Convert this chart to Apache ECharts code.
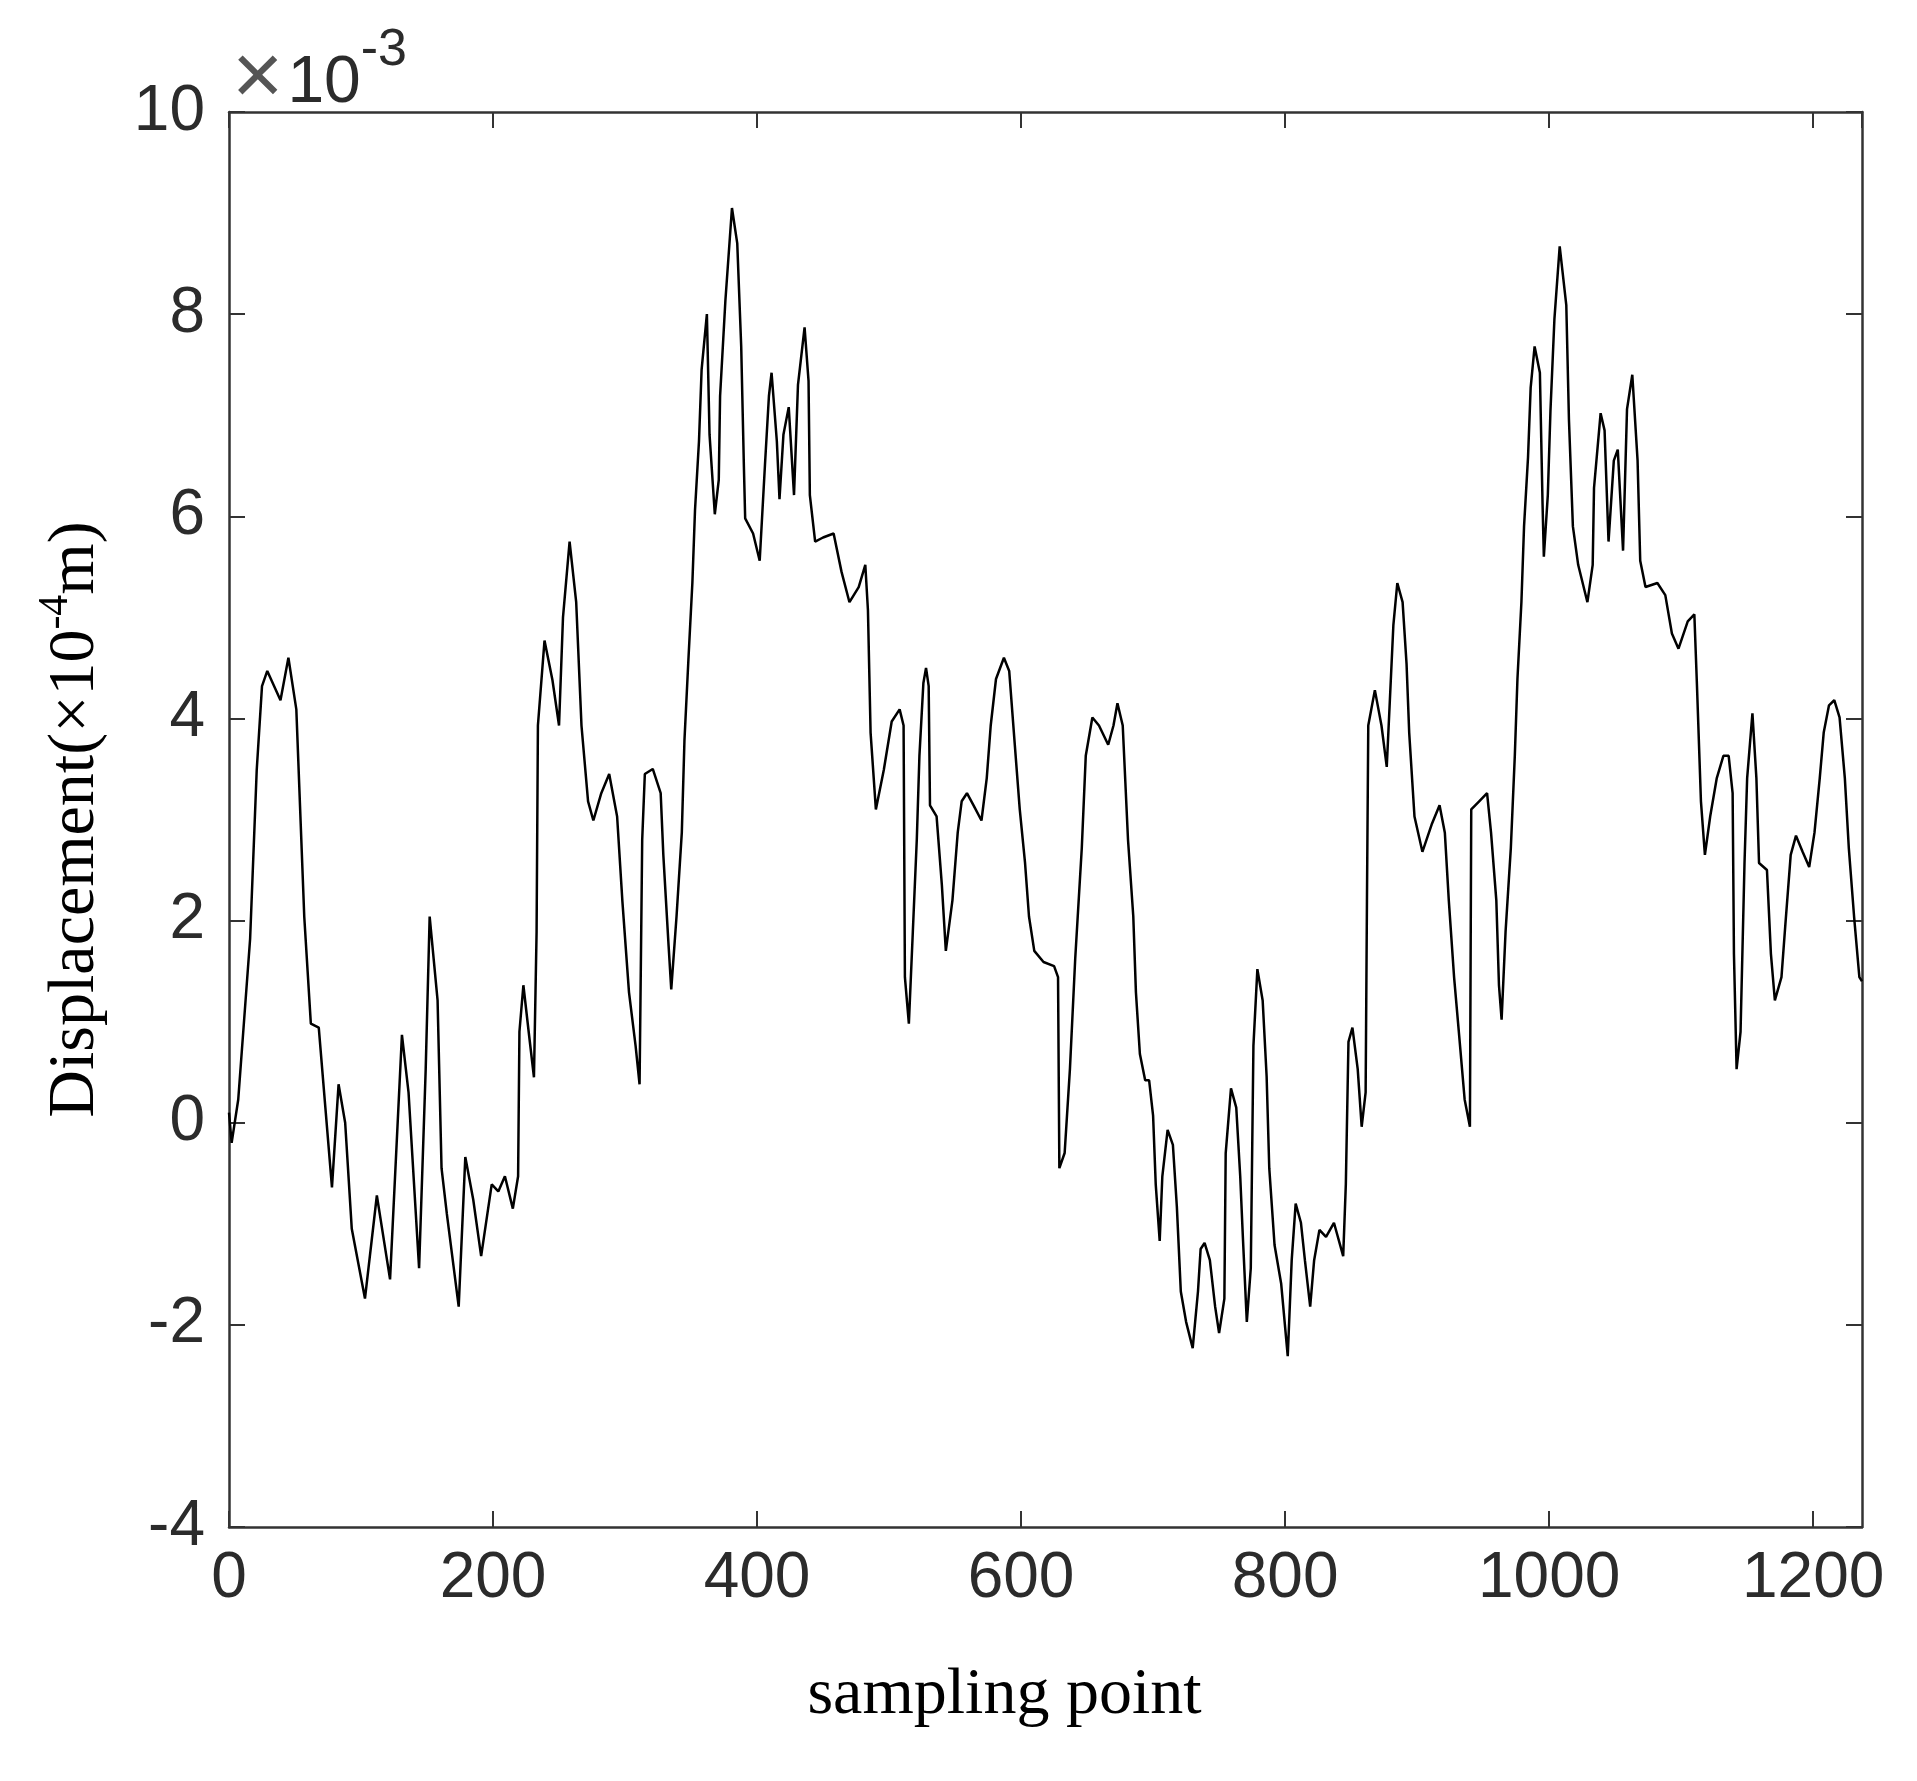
<!DOCTYPE html>
<html>
<head>
<meta charset="utf-8">
<script src="https://cdn.jsdelivr.net/npm/echarts@6/dist/echarts.min.js"></script>
<style>
  html, body { margin: 0; padding: 0; background: #fff; }
  #container { width: 1917px; height: 1781px; }
</style>
</head>
<body>
<div id="container"></div>
<script>
// sampling point index (x) and displacement value in units of 1e-3 (y)
const SAMPLE_X = [
    0, 2, 7, 16, 21, 25, 29, 39, 45, 51, 57, 62, 68, 73, 78, 83, 88, 93, 103, 112,
    122, 131, 136, 144, 149, 152, 158, 161, 165, 174, 179, 185, 191, 199, 204, 209, 215, 219, 220, 223,
    227, 231, 233, 234, 239, 245, 250, 253, 258, 263, 267, 272, 276, 282, 288, 294, 298, 303, 308, 311,
    313, 315, 321, 327, 329, 333, 335, 339, 343, 345, 348, 351, 353, 356, 358, 362, 364, 368, 371, 372,
    376, 381, 385, 388, 390, 391, 397, 402, 406, 409, 411, 415, 417, 420, 424, 428, 431, 436, 439, 440,
    444, 450, 458, 464, 470, 477, 482, 484, 486, 490, 496, 502, 508, 511, 512, 515, 518, 521, 523, 526,
    528, 530, 531, 536, 540, 543, 548, 552, 555, 559, 564, 570, 574, 577, 581, 587, 591, 595, 599, 603,
    606, 610, 617, 625, 628, 629, 633, 637, 641, 646, 649, 654, 659, 666, 670, 673, 677, 681, 685, 687,
    690, 694, 697, 700, 702, 705, 707, 711, 715, 718, 721, 725, 730, 734, 736, 739, 743, 747, 750, 754,
    755, 759, 763, 766, 768, 771, 774, 776, 779, 783, 786, 788, 792, 797, 802, 805, 808, 812, 815, 819,
    822, 826, 831, 837, 844, 846, 848, 851, 855, 858, 861, 862, 863, 868, 873, 877, 882, 885, 889, 892,
    894, 898, 904, 911, 917, 921, 924, 928, 932, 936, 940, 941, 947, 953, 956, 960, 962, 964, 967, 971,
    974, 976, 979, 981, 984, 986, 989, 993, 995, 996, 999, 1001, 1004, 1008, 1013, 1015, 1018, 1022, 1029, 1033,
    1034, 1039, 1042, 1045, 1049, 1052, 1056, 1059, 1063, 1067, 1069, 1073, 1082, 1088, 1093, 1098, 1105, 1110, 1112, 1115,
    1118, 1122, 1127, 1132, 1136, 1139, 1140, 1142, 1145, 1148, 1150, 1154, 1157, 1159, 1165, 1168, 1171, 1176, 1179, 1183,
    1187, 1192, 1197, 1201, 1205, 1208, 1212, 1216, 1220, 1224, 1227, 1231, 1235, 1237
];
const DISPLACEMENT = [
    0.1, -0.2, 0.23, 1.82, 3.49, 4.32, 4.47, 4.18, 4.6, 4.09, 2.04, 0.98, 0.94, 0.15, -0.64, 0.38, 0.0, -1.05, -1.74, -0.72,
    -1.55, 0.87, 0.3, -1.44, 0.53, 2.04, 1.21, -0.45, -0.9, -1.82, -0.34, -0.76, -1.32, -0.61, -0.68, -0.53, -0.85, -0.53, 0.9, 1.36,
    0.9, 0.45, 1.89, 3.93, 4.77, 4.38, 3.93, 5.0, 5.75, 5.15, 3.93, 3.18, 2.99, 3.26, 3.45, 3.03, 2.19, 1.29, 0.76, 0.38,
    2.8, 3.45, 3.5, 3.26, 2.65, 1.75, 1.32, 2.04, 2.87, 3.78, 4.58, 5.34, 6.06, 6.74, 7.45, 8.0, 6.81, 6.02, 6.36, 7.19,
    8.13, 9.05, 8.7, 7.68, 6.51, 5.98, 5.83, 5.56, 6.51, 7.19, 7.42, 6.74, 6.17, 6.81, 7.08, 6.21, 7.3, 7.87, 7.34, 6.21,
    5.75, 5.79, 5.83, 5.45, 5.15, 5.3, 5.52, 5.07, 3.86, 3.1, 3.49, 3.97, 4.09, 3.93, 1.44, 0.98, 1.89, 2.8, 3.63, 4.35,
    4.5, 4.32, 3.14, 3.03, 2.35, 1.7, 2.2, 2.87, 3.18, 3.26, 3.14, 2.99, 3.41, 3.93, 4.39, 4.6, 4.47, 3.78, 3.1, 2.57,
    2.04, 1.7, 1.59, 1.55, 1.44, -0.45, -0.3, 0.53, 1.62, 2.72, 3.63, 4.01, 3.93, 3.74, 3.93, 4.15, 3.93, 2.8, 2.04, 1.29,
    0.68, 0.42, 0.42, 0.07, -0.61, -1.17, -0.53, -0.07, -0.22, -0.83, -1.67, -1.97, -2.23, -1.67, -1.25, -1.19, -1.36, -1.82, -2.08, -1.74,
    -0.3, 0.34, 0.15, -0.53, -1.13, -1.97, -1.44, 0.76, 1.52, 1.21, 0.46, -0.45, -1.21, -1.59, -2.31, -1.36, -0.8, -0.99, -1.36, -1.82,
    -1.36, -1.06, -1.13, -0.99, -1.32, -0.61, 0.8, 0.94, 0.53, -0.04, 0.3, 2.19, 3.93, 4.28, 3.93, 3.52, 4.92, 5.34, 5.15, 4.54,
    3.86, 3.03, 2.68, 2.95, 3.14, 2.87, 2.2, 1.44, 0.84, 0.23, -0.04, 3.1, 3.18, 3.26, 2.87, 2.2, 1.36, 1.02, 1.89, 2.72,
    3.63, 4.39, 5.15, 5.9, 6.58, 7.27, 7.68, 7.42, 6.13, 5.6, 6.21, 7.04, 7.95, 8.67, 8.09, 6.96, 5.9, 5.52, 5.15, 5.52,
    6.28, 7.02, 6.85, 5.75, 6.55, 6.66, 5.66, 7.06, 7.4, 6.55, 5.56, 5.3, 5.34, 5.22, 4.84, 4.69, 4.96, 5.03, 4.32, 3.18,
    2.65, 3.03, 3.41, 3.63, 3.63, 3.26, 1.67, 0.53, 0.9, 2.57, 3.41, 4.05, 3.41, 2.57, 2.5, 1.67, 1.21, 1.44, 1.97, 2.65,
    2.84, 2.68, 2.53, 2.87, 3.41, 3.86, 4.13, 4.18, 4.01, 3.41, 2.72, 2.04, 1.44, 1.4
];

const X_MIN = 0, X_MAX = 1237, X_STEP = 200;
const Y_MIN = -4, Y_MAX = 10, Y_STEP = 2;

const AXIS_COLOR = '#333';
const LABEL_COLOR = '#2b2b2b';
const SANS = "'Liberation Sans', Arial, sans-serif";
const SERIF = "'Liberation Serif', 'Times New Roman', serif";

let dom = document.getElementById('container');
let myChart = echarts.init(dom);

let axisLine = { show: true, onZero: false, lineStyle: { color: AXIS_COLOR, width: 2.5 } };
let axisTick = { show: true, inside: true, length: 16, lineStyle: { color: AXIS_COLOR, width: 2 } };

let option = {
    backgroundColor: '#fff',
    animation: false,
    grid: { left: 229, right: 55, top: 112, bottom: 254 },
    xAxis: [{
        type: 'value',
        min: X_MIN,
        max: X_MAX,
        interval: X_STEP,
        position: 'bottom',
        axisLine: axisLine,
        axisTick: axisTick,
        splitLine: { show: false },
        axisLabel: {
            fontSize: 64, color: LABEL_COLOR, fontFamily: SANS, margin: 20,
            showMaxLabel: false,
            formatter: function (v) { return String(v); }
        },
        name: 'sampling point',
        nameLocation: 'middle',
        nameGap: 136,
        nameTextStyle: {
            fontFamily: SERIF, fontSize: 66, color: '#000',
            padding: [0, 82, 0, 0]
        }
    }, {
        type: 'value',
        min: X_MIN,
        max: X_MAX,
        interval: X_STEP,
        position: 'top',
        axisLine: axisLine,
        axisTick: axisTick,
        splitLine: { show: false },
        axisLabel: { show: false }
    }],
    yAxis: [{
        type: 'value',
        min: Y_MIN,
        max: Y_MAX,
        interval: Y_STEP,
        position: 'left',
        axisLine: axisLine,
        axisTick: axisTick,
        splitLine: { show: false },
        axisLabel: { fontSize: 64, color: LABEL_COLOR, fontFamily: SANS, margin: 24 },
        name: '{n|Displacement(×10}{s|-4}{n|m)}',
        nameLocation: 'middle',
        nameRotate: 90,
        nameGap: 120,
        nameTextStyle: {
            rich: {
                n: { fontFamily: SERIF, fontSize: 66, color: '#000', lineHeight: 74, verticalAlign: 'bottom' },
                s: { fontFamily: SERIF, fontSize: 42, color: '#000', lineHeight: 74, verticalAlign: 'top' }
            }
        }
    }, {
        type: 'value',
        min: Y_MIN,
        max: Y_MAX,
        interval: Y_STEP,
        position: 'right',
        axisLine: axisLine,
        axisTick: axisTick,
        splitLine: { show: false },
        axisLabel: { show: false }
    }],
    graphic: [{
        type: 'text',
        left: 232,
        top: 18,
        style: {
            text: '{x|×}{a|10}{b|-3}',
            rich: {
                x: { fontFamily: SANS, fontSize: 88, fill: '#555', lineHeight: 88, verticalAlign: 'middle', padding: [18, 4, 0, 0] },
                a: { fontFamily: SANS, fontSize: 66, fill: LABEL_COLOR, lineHeight: 92, verticalAlign: 'bottom' },
                b: { fontFamily: SANS, fontSize: 52, fill: LABEL_COLOR, lineHeight: 92, verticalAlign: 'top' }
            }
        }
    }],
    series: [{
        type: 'line',
        xAxisIndex: 0,
        yAxisIndex: 0,
        data: SAMPLE_X.map(function (x, i) { return [x, DISPLACEMENT[i]]; }),
        symbol: 'none',
        smooth: false,
        lineStyle: { color: '#000', width: 2.5 }
    }]
};

myChart.setOption(option);
window.addEventListener('resize', function () {
    myChart.resize();
});
</script>
</body>
</html>
